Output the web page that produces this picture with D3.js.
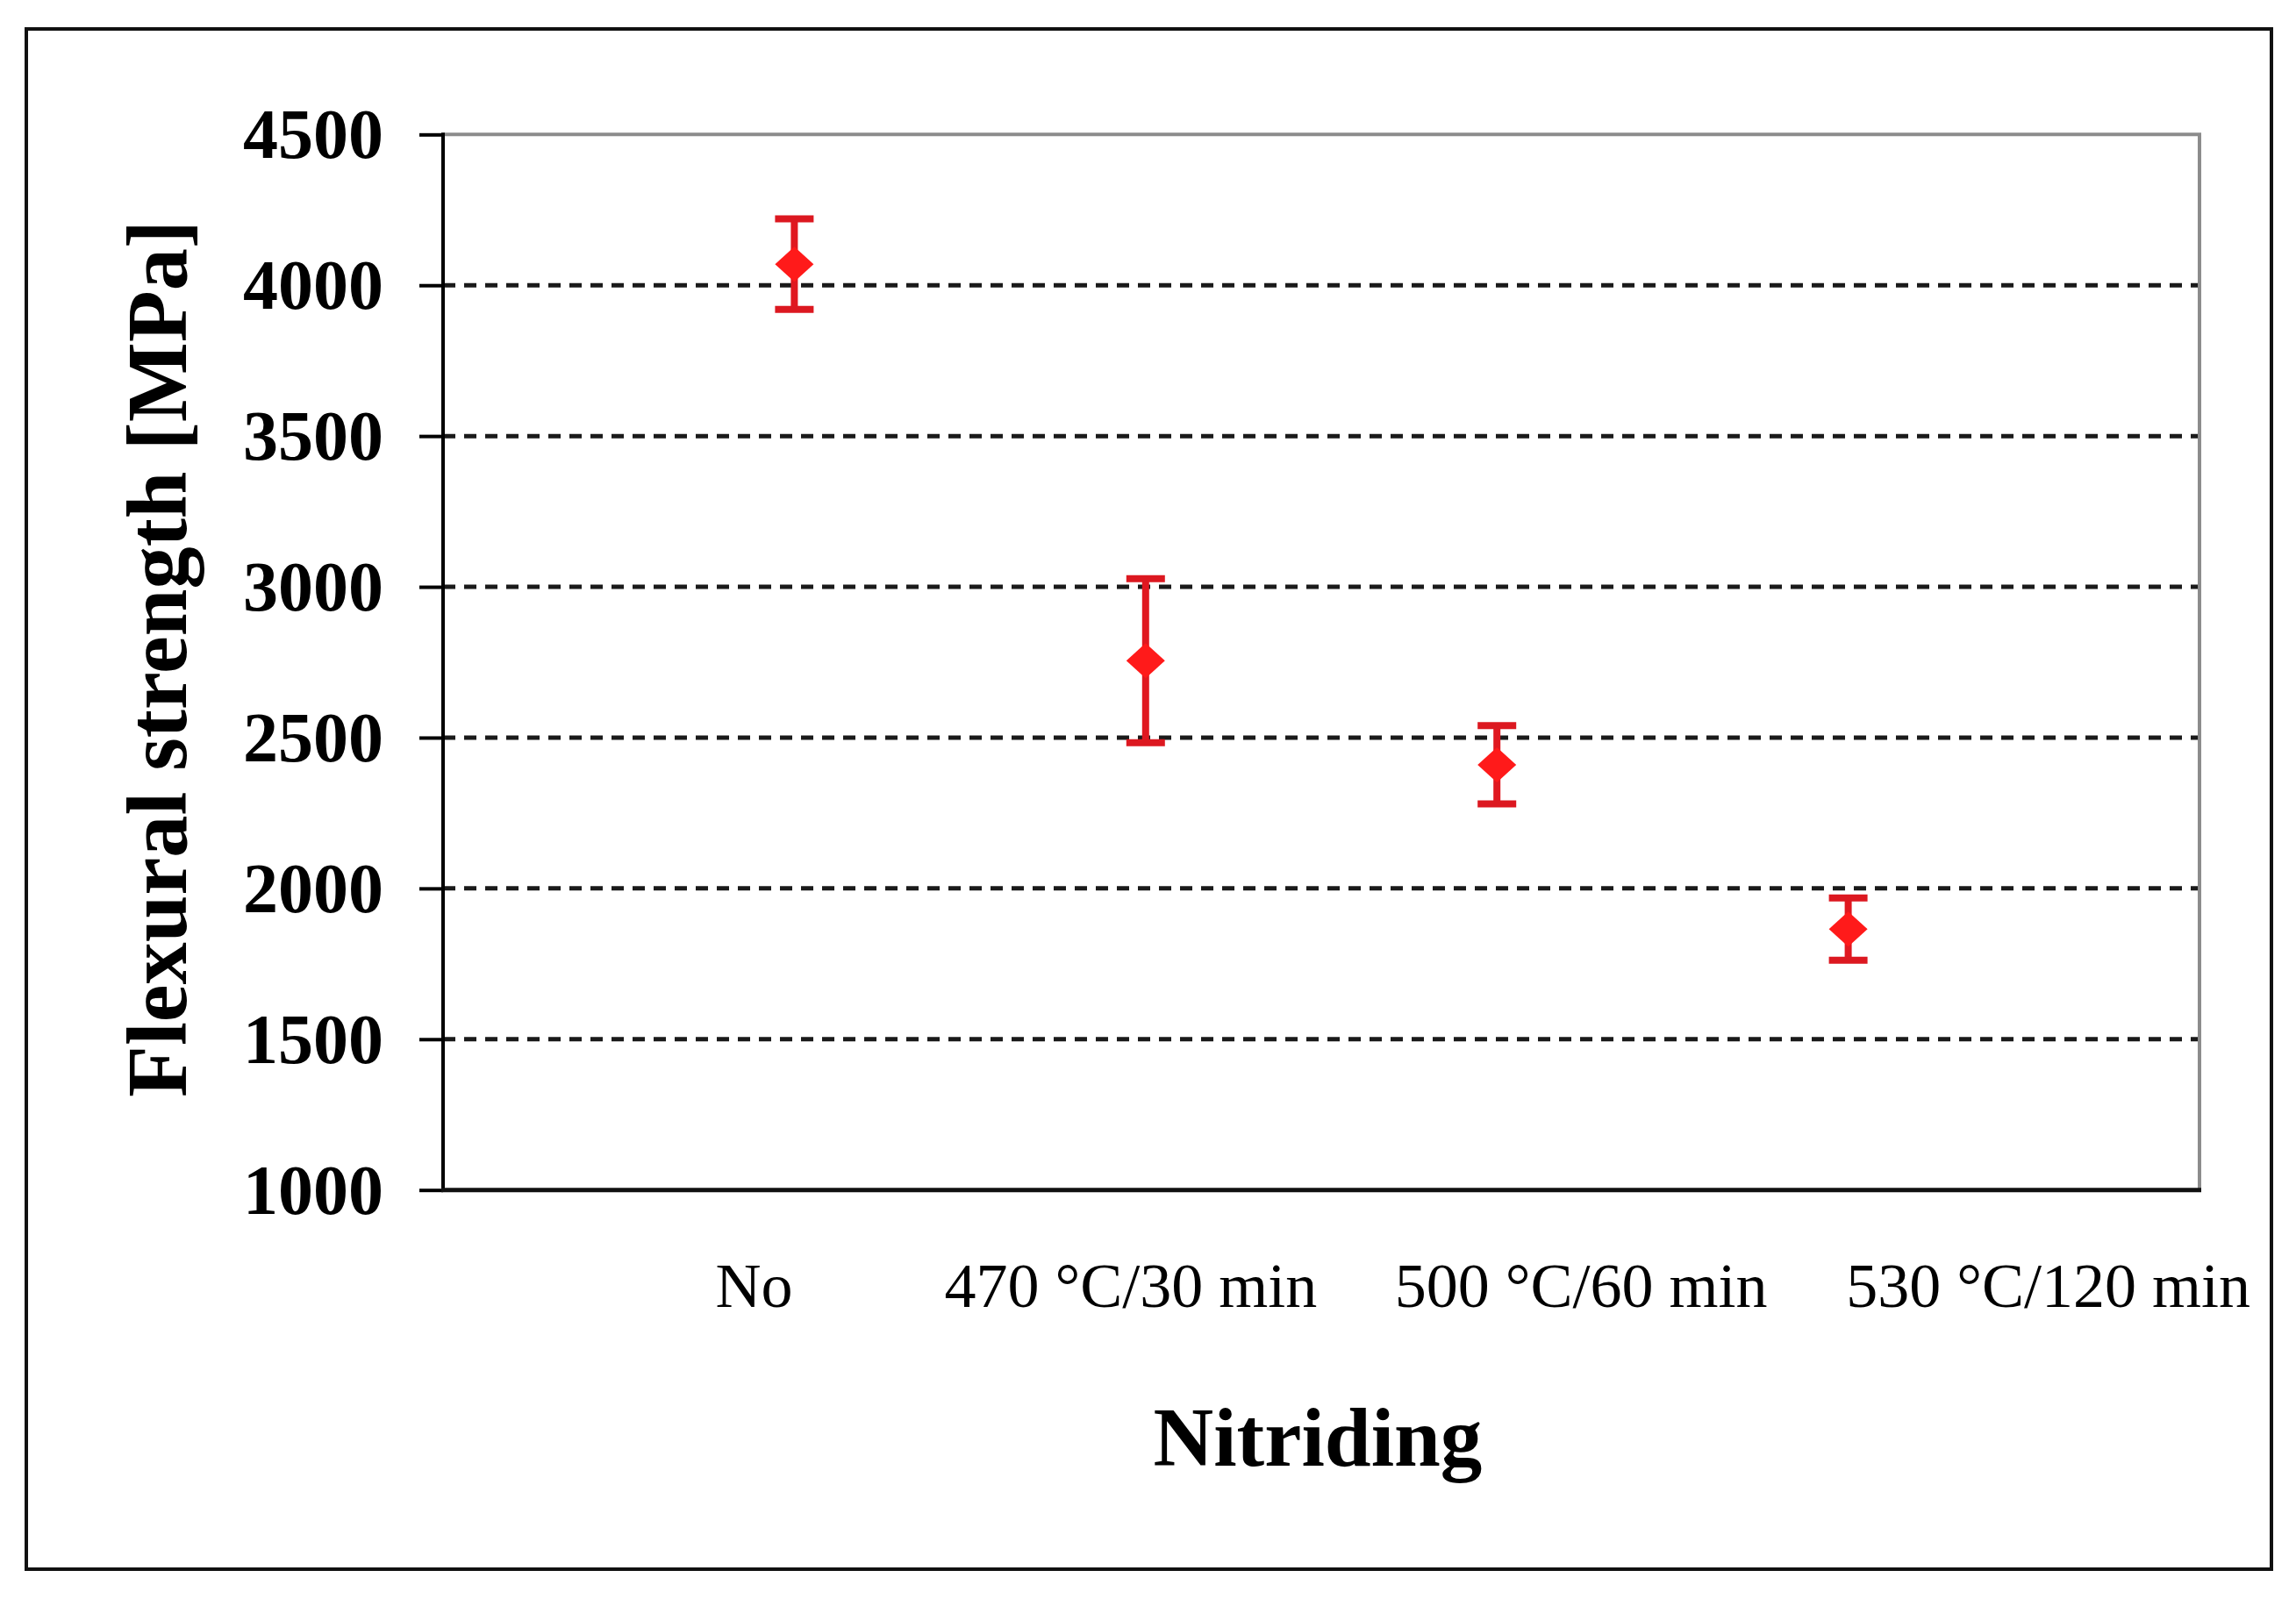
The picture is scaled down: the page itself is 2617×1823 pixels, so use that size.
<!DOCTYPE html>
<html>
<head>
<meta charset="utf-8">
<script src="https://cdn.jsdelivr.net/npm/d3@7/dist/d3.min.js"></script>
<style>
  html, body { margin: 0; padding: 0; background: #fff; }
  svg { display: block; }
</style>
</head>
<body>
<script>
// ---- data ----
const categories = ["No", "470\u00A0\u00B0C/30 min", "500\u00A0\u00B0C/60 min", "530\u00A0\u00B0C/120 min"];
const meanStrength = [4070, 2755, 2410, 1865];
const errStrength = [150, 272, 130, 103];
const yTicks = [1000, 1500, 2000, 2500, 3000, 3500, 4000, 4500];
const xTitle = "Nitriding";
const yTitle = "Flexural strength [MPa]";

// ---- layout ----
const W = 2617, H = 1823;
const plot = { left: 505, right: 2507, top: 153.3, bottom: 1356.7 };
const labelShift = [-46, -17, 96, 228];

const svg = d3.select("body").append("svg").attr("width", W).attr("height", H);
svg.append("rect").attr("width", W).attr("height", H).attr("fill", "#fff");

// outer frame
svg.append("rect")
  .attr("x", 30).attr("y", 33).attr("width", 2559).attr("height", 1756)
  .attr("fill", "none").attr("stroke", "#111").attr("stroke-width", 4);

const x = d3.scaleLinear().domain([0, categories.length + 1]).range([plot.left, plot.right]);
const y = d3.scaleLinear().domain([1000, 4500]).range([plot.bottom, plot.top]);

// gridlines
svg.append("g").selectAll("line")
  .data(yTicks.filter(v => v > 1000 && v < 4500))
  .join("line")
  .attr("x1", plot.left).attr("x2", plot.right)
  .attr("y1", d => y(d)).attr("y2", d => y(d))
  .attr("stroke", "#1a1a1a").attr("stroke-width", 5)
  .attr("stroke-dasharray", "14 10");

// top & right border (grey)
svg.append("path")
  .attr("d", `M${plot.left},${y(4500)}H${plot.right}V${plot.bottom}`)
  .attr("fill", "none").attr("stroke", "#8c8c8c").attr("stroke-width", 4);

// y axis
const yAxis = d3.axisLeft(y).tickValues(yTicks).tickSize(27).tickPadding(41).tickFormat(d3.format("d"));
const gy = svg.append("g").attr("transform", `translate(${plot.left},0)`).call(yAxis);
gy.select(".domain").remove();
gy.selectAll(".tick line").attr("stroke", "#000").attr("stroke-width", 4);
gy.selectAll(".tick text")
  .attr("fill", "#000")
  .style("font-family", "'Liberation Serif', 'Times New Roman', serif")
  .style("font-weight", "bold")
  .style("font-size", "80px")
  .attr("dy", "0.33em");

// axis lines
svg.append("line").attr("x1", plot.left).attr("x2", plot.left)
  .attr("y1", plot.top - 2).attr("y2", plot.bottom)
  .attr("stroke", "#000").attr("stroke-width", 4);
svg.append("line").attr("x1", plot.left - 2).attr("x2", plot.right + 2)
  .attr("y1", plot.bottom).attr("y2", plot.bottom)
  .attr("stroke", "#111").attr("stroke-width", 5);

// x labels
svg.append("g").selectAll("text")
  .data(categories)
  .join("text")
  .attr("x", (d, i) => x(i + 1) + labelShift[i])
  .attr("y", 1490)
  .attr("text-anchor", "middle")
  .style("font-family", "'Liberation Serif', 'Times New Roman', serif")
  .style("font-size", "72px")
  .attr("fill", "#000")
  .text(d => d);

// error bars
const capW = 22;
const gE = svg.append("g");
categories.forEach((c, i) => {
  const cx = x(i + 1);
  const hi = y(meanStrength[i] + errStrength[i]);
  const lo = y(meanStrength[i] - errStrength[i]);
  gE.append("line").attr("x1", cx).attr("x2", cx).attr("y1", hi).attr("y2", lo)
    .attr("stroke", "#e01820").attr("stroke-width", 8);
  [hi, lo].forEach(yy => {
    gE.append("line").attr("x1", cx - capW).attr("x2", cx + capW).attr("y1", yy).attr("y2", yy)
      .attr("stroke", "#dc1820").attr("stroke-width", 8);
  });
});

// diamonds
svg.append("g").selectAll("path")
  .data(meanStrength)
  .join("path")
  .attr("d", (d, i) => {
    const cx = x(i + 1), cy = y(d);
    return `M${cx},${cy - 20}L${cx + 22},${cy}L${cx},${cy + 20}L${cx - 22},${cy}Z`;
  })
  .attr("fill", "#ff1a1a");

// x title
svg.append("text")
  .attr("x", 1502).attr("y", 1671)
  .attr("text-anchor", "middle")
  .style("font-family", "'Liberation Serif', 'Times New Roman', serif")
  .style("font-weight", "bold")
  .style("font-size", "95px")
  .attr("fill", "#000")
  .text(xTitle);

// y title
svg.append("text")
  .attr("transform", "translate(212,751) rotate(-90)")
  .attr("text-anchor", "middle")
  .style("font-family", "'Liberation Serif', 'Times New Roman', serif")
  .style("font-weight", "bold")
  .style("font-size", "98px")
  .attr("textLength", 1000)
  .attr("lengthAdjust", "spacingAndGlyphs")
  .attr("fill", "#000")
  .text(yTitle);
</script>
</body>
</html>
